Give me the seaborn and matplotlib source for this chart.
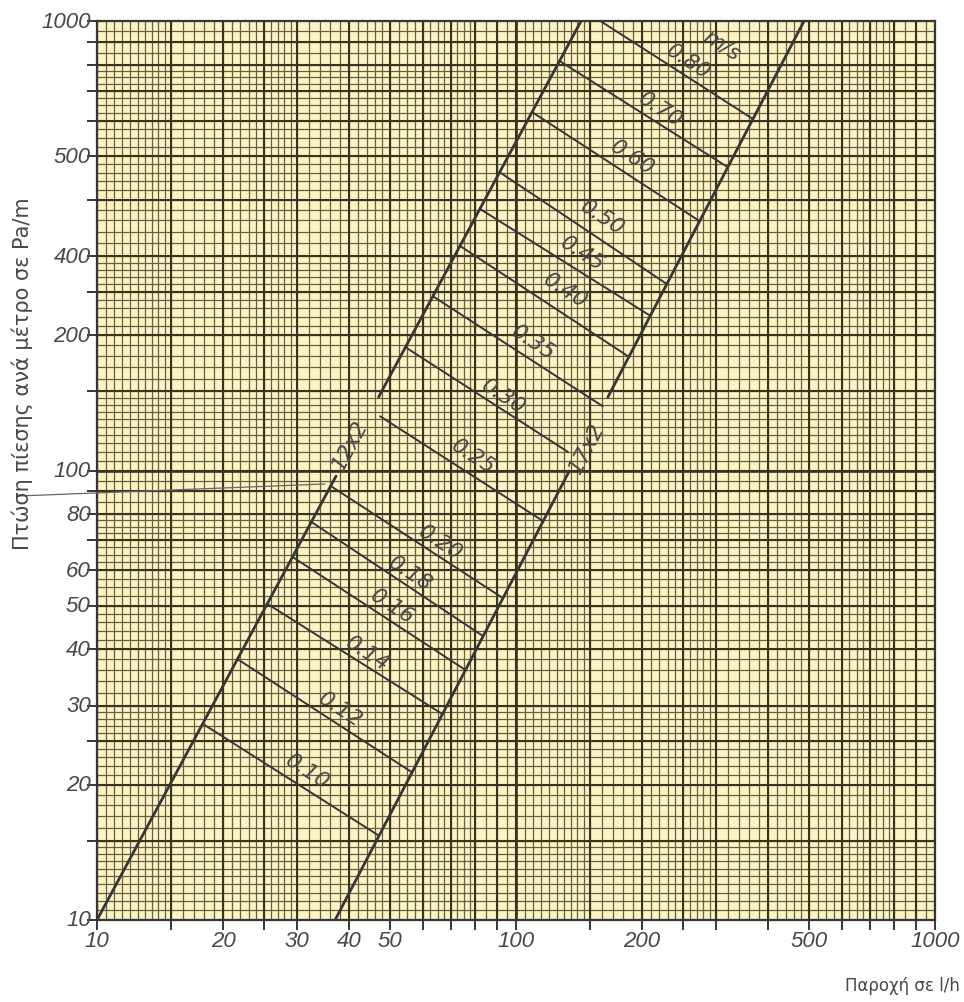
import numpy as np
import pandas as pd
import matplotlib
matplotlib.use("Agg")
import matplotlib.pyplot as plt
import seaborn as sns
from matplotlib.lines import Line2D
from matplotlib.ticker import NullLocator

# ---------------- data ----------------
# pipe characteristic lines (two segments each, gap where the label sits)
pipe12_flow = [10.0, 37.2, 47.0, 143.0]
pipe12_dp = [10.0, 97.2, 145.7, 1000.0]
pipe17_flow = [37.0, 134.0, 165.7, 487.0]
pipe17_dp = [10.0, 99.7, 145.7, 1000.0]
pipe_labels = ["12x2", "17x2"]

# constant-velocity lines (m/s): end on the 12x2 line (left) and 17x2 line (right)
velocity_labels = ["0.10", "0.12", "0.14", "0.16", "0.18", "0.20", "0.25", "0.30",
                   "0.35", "0.40", "0.45", "0.50", "0.60", "0.70", "0.80"]
vel_flow_left = [17.9, 21.6, 25.5, 29.3, 32.5, 36.1, 47.4, 54.5, 63.4, 73.5, 82.0, 91.4, 109.0, 127.0, 159.0]
vel_dp_left = [27.3, 38.1, 50.5, 64.2, 76.8, 92.4, 132.0, 188.0, 244.0, 316.0, 382.0, 461.0, 628.0, 815.0, 1000.0]
vel_flow_right = [47.1, 56.5, 66.8, 75.7, 83.5, 93.1, 116.0, 133.0, 161.0, 186.0, 209.0, 229.0, 274.0, 320.0, 368.0]
vel_dp_right = [15.4, 21.3, 28.7, 36.0, 42.8, 52.0, 77.2, 110.0, 139.0, 179.0, 221.0, 260.0, 359.0, 473.0, 605.0]

# tick labels
x_tick_values = [10, 20, 30, 40, 50, 100, 200, 500, 1000]
x_tick_text = ["10", "20", "30", "40", "50", "100", "200", "500", "1000"]
y_tick_values = [10, 20, 30, 40, 50, 60, 80, 100, 200, 300, 500, 1000]
y_tick_text = ["10", "20", "30", "40", "50", "60", "80", "100", "200", "400", "500", "1000"]

x_title = "Παροχή σε l/h"
y_title = "Πτώση πίεσης ανά μέτρο σε Pa/m"
unit_label = "m/s"

# ---------------- layout (label anchor positions in data space) ----------------
vel_label_pos = [(31.7, 21.5), (38.0, 29.5), (44.1, 39.3), (50.6, 50.0), (55.8, 59.2),
                 (65.9, 69.3), (79.0, 107.7), (93.1, 146.5), (109.8, 193.0), (130.9, 252.0),
                 (143.7, 305.0), (160.5, 366.0), (189.2, 498.0), (220.7, 637.0), (257.3, 815.0)]
unit_label_pos = (310.0, 889.0)
pipe_label_pos = [(40.2, 114.5, 61.7), (147.7, 112.8, 62.4)]

BG = "#fcf4c4"
GRID_MINOR = "#655f40"
GRID_MAJOR = "#38341f"
INK = "#363636"
TXT = "#484848"
TICKFONT = ["Liberation Sans", "DejaVu Sans"]

sns.set_theme(style="white")
plt.rcParams["font.family"] = ["DejaVu Sans"]

fig = plt.figure(figsize=(9.64, 10.03), dpi=100)
ax = fig.add_axes([97 / 964, 1 - 921 / 1003, (935 - 97) / 964, (921 - 22) / 1003])
ax.set_facecolor(BG)
ax.set_xscale("log")
ax.set_yscale("log")

# log-paper grid
mant_minor = np.concatenate([np.arange(1, 1.5, 0.05), np.arange(1.5, 3, 0.1), np.arange(3, 5, 0.2),
                             np.arange(5, 8, 0.25), np.arange(8, 10, 0.5)])
mant_major = np.array([1, 1.5, 2, 2.5, 3, 4, 5, 6, 7, 8, 9])
minor_vals = np.concatenate([mant_minor * 10, mant_minor * 100])
major_vals = np.concatenate([mant_major * 10, mant_major * 100, [1000]])
ax.vlines(minor_vals, 10, 1000, colors=GRID_MINOR, lw=0.9, zorder=0.5)
ax.hlines(minor_vals, 10, 1000, colors=GRID_MINOR, lw=0.9, zorder=0.5)
ax.vlines(major_vals, 10, 1000, colors=GRID_MAJOR, lw=1.5, zorder=0.6)
ax.hlines(major_vals, 10, 1000, colors=GRID_MAJOR, lw=1.5, zorder=0.6)
ax.vlines([100], 10, 1000, colors=GRID_MAJOR, lw=1.9, zorder=0.6)
ax.hlines([100], 10, 1000, colors=GRID_MAJOR, lw=1.9, zorder=0.6)

# pipe lines via seaborn
pipes_df = pd.DataFrame({
    "flow": pipe12_flow + pipe17_flow,
    "dp": pipe12_dp + pipe17_dp,
    "seg": ["a", "a", "b", "b", "c", "c", "d", "d"],
})
sns.lineplot(data=pipes_df, x="flow", y="dp", units="seg", estimator=None, sort=False,
             color=INK, lw=2.0, ax=ax, legend=False, zorder=3)

# velocity lines via seaborn
vel_df = pd.DataFrame({
    "flow": vel_flow_left + vel_flow_right,
    "dp": vel_dp_left + vel_dp_right,
    "v": velocity_labels + velocity_labels,
})
sns.lineplot(data=vel_df, x="flow", y="dp", units="v", estimator=None, sort=False,
             color=INK, lw=1.4, ax=ax, legend=False, zorder=3)
ax.set_xlim(10, 1000)
ax.set_ylim(10, 1000)

for lab, (px, py) in zip(velocity_labels, vel_label_pos):
    ax.text(px, py, lab, rotation=-33, rotation_mode="anchor", ha="center", va="center",
            fontsize=15.5, color=TXT, style="italic", zorder=4)
ax.text(unit_label_pos[0], unit_label_pos[1], unit_label, rotation=-33, rotation_mode="anchor",
        ha="center", va="center", fontsize=15.5, color=TXT, style="italic", zorder=4)
for lab, (px, py, rot) in zip(pipe_labels, pipe_label_pos):
    ax.text(px, py, lab, rotation=rot, rotation_mode="anchor", ha="center", va="center",
            fontsize=15.5, color=TXT, style="italic", zorder=4)

# ticks (outside marks at the heavy grid lines, labels at selected values)
ax.set_xticks(major_vals, labels=[""] * len(major_vals))
ax.set_yticks(major_vals, labels=[""] * len(major_vals))
ax.xaxis.set_minor_locator(NullLocator())
ax.yaxis.set_minor_locator(NullLocator())
ax.tick_params(which="major", direction="out", length=7, width=1.4, color=INK, bottom=True, left=True)
for v, t in zip(x_tick_values, x_tick_text):
    ax.text(v, 10 / 1.055, t, ha="center", va="top", fontsize=16, color=TXT,
            style="italic", family=TICKFONT, clip_on=False)
for v, t in zip(y_tick_values, y_tick_text):
    ax.text(10 / 1.035, v, t, ha="right", va="center", fontsize=16, color=TXT,
            style="italic", family=TICKFONT, clip_on=False)

for s in ax.spines.values():
    s.set_color(INK)
    s.set_linewidth(1.6)
ax.set_xlabel("")
ax.set_ylabel("")

fig.text(22 / 964, 1 - 374 / 1003, y_title, rotation=90, ha="center", va="center",
         fontsize=15, color=TXT)
fig.text(960 / 964, 1 - 986 / 1003, x_title, ha="right", va="center", fontsize=12, color=TXT)

# thin pointer line at the left margin
fig.add_artist(Line2D([18 / 964, 325 / 964], [1 - 497 / 1003, 1 - 485 / 1003],
                      transform=fig.transFigure, color="#666666", lw=0.9))

fig.savefig("out.png", dpi=100, facecolor="white")
